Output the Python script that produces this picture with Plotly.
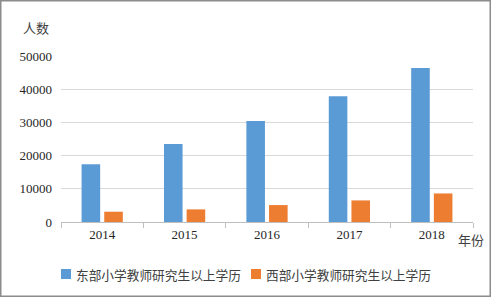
import plotly.graph_objects as go

years = ["2014", "2015", "2016", "2017", "2018"]
east = [17400, 23500, 30400, 37900, 46400]
west = [3100, 3800, 5100, 6500, 8600]
east_name = "东部小学教师研究生以上学历"
west_name = "西部小学教师研究生以上学历"
east_color = "#5B9BD5"
west_color = "#ED7D31"

W, H = 491, 297
L, R, T, B = 61, 18, 56, 75
pw, ph = W - L - R, H - T - B

def px(x):
    return (x - L) / pw

def py(y):
    return (H - B - y) / ph

serif = "Liberation Serif, Times New Roman, serif"
cjk = "Noto Sans CJK SC, sans-serif"

fig = go.Figure()
fig.add_trace(go.Bar(x=years, y=east, name=east_name, marker=dict(color=east_color, line=dict(width=0))))
fig.add_trace(go.Bar(x=years, y=west, name=west_name, marker=dict(color=west_color, line=dict(width=0))))

fig.update_layout(
    width=W, height=H,
    margin=dict(l=L, r=R, t=T, b=B, autoexpand=False),
    paper_bgcolor="white", plot_bgcolor="white",
    barmode="group", bargap=0.45, bargroupgap=0.18,
    font=dict(family=serif, size=13, color="#262626"),
    xaxis=dict(
        type="category", showgrid=False, showline=True, linecolor="#bfbfbf", linewidth=1,
        ticks="outside", tickson="boundaries", ticklen=5, tickcolor="#bfbfbf",
        tickfont=dict(family=serif, size=13, color="#262626"),
    ),
    yaxis=dict(
        range=[0, 50000], tickvals=[0, 10000, 20000, 30000, 40000, 50000],
        ticktext=["0", "10000", "20000", "30000", "40000", "50000"],
        showgrid=True, gridcolor="#d9d9d9", gridwidth=1.3, zeroline=False,
        showline=False, ticks="", ticklabelstandoff=8,
        tickfont=dict(family=serif, size=13, color="#262626"),
    ),
    showlegend=False,
)

# legend (manual, to match the original spacing)
for name, color, sx in [(east_name, east_color, 61), (west_name, west_color, 251)]:
    fig.add_shape(type="rect", xref="paper", yref="paper",
                  x0=px(sx), x1=px(sx + 10), y0=py(279), y1=py(269),
                  line=dict(width=0), fillcolor=color)
    fig.add_annotation(text=name, x=px(sx + 13), y=py(274.5), xref="paper", yref="paper",
                       xanchor="left", yanchor="middle", showarrow=False,
                       font=dict(family=cjk, size=12.7, color="#404040"))

fig.add_annotation(text="人数", x=px(36), y=py(28), xref="paper", yref="paper",
                   xanchor="center", yanchor="middle",
                   showarrow=False, font=dict(family=cjk, size=13, color="#404040"))
fig.add_annotation(text="年份", x=px(471), y=py(239), xref="paper", yref="paper",
                   xanchor="center", yanchor="middle",
                   showarrow=False, font=dict(family=cjk, size=13, color="#404040"))

fig.add_shape(type="rect", xref="paper", yref="paper",
              x0=px(0.75), x1=px(W - 0.75), y0=py(H - 0.75), y1=py(0.75),
              line=dict(color="#8c8c8c", width=1.5), fillcolor="rgba(0,0,0,0)", layer="above")

fig.write_html("out.html", config={"displayModeBar": False},
               post_script="document.body.style.margin='0';document.body.style.overflow='hidden';")
